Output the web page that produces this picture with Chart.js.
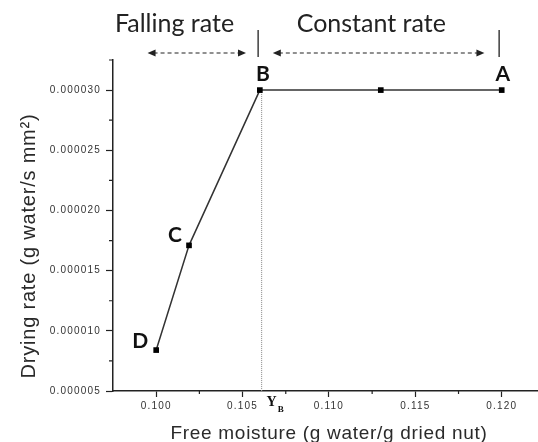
<!DOCTYPE html>
<html>
<head>
<meta charset="utf-8">
<script src="https://cdn.jsdelivr.net/npm/chart.js@4"></script>
<style>
  html, body { margin: 0; padding: 0; background: #fff; }
  canvas { display: block; }
</style>
</head>
<body>
<canvas id="chart" width="538" height="442"></canvas>
<script>
// measured points, left to right
const pointNames = ['D', 'C', 'B', '', 'A'];
const moisture = [0.1000, 0.1019, 0.1060, 0.1130, 0.1200];
const dryingRate = [0.0000084, 0.0000171, 0.0000300, 0.0000300, 0.0000300];

// critical moisture Y_B
const criticalMoisture = 0.1061;

const xTicks = [0.100, 0.105, 0.110, 0.115, 0.120];
const xTickLabels = ['0.100', '0.105', '0.110', '0.115', '0.120'];
const xMinorTicks = [0.1025, 0.1075, 0.1125, 0.1175];

const yTicks = [0.000005, 0.000010, 0.000015, 0.000020, 0.000025, 0.000030];
const yTickLabels = ['0.000005', '0.000010', '0.000015', '0.000020', '0.000025', '0.000030'];
const yMinorTicks = [0.0000075, 0.0000125, 0.0000175, 0.0000225, 0.0000275, 0.0000325];

// drying periods shown above the plot
const phaseNames = ['Falling rate', 'Constant rate'];
const phaseCenters = [0.10106, 0.11245];
const phaseArrows = [[0.0995, 0.1052], [0.10675, 0.1190]];
const phaseBounds = [0.1059, 0.11985];

const xTitle = 'Free moisture (g water/g dried nut)';
const yTitle = 'Drying rate (g water/s mm\u00B2)';

const INK = '#222';

// where each point letter sits relative to its marker
const labelPlace = {
  D: { align: 'right', dx: -8, dy: -2 },
  C: { align: 'right', dx: -7, dy: -3 },
  B: { align: 'center', dx: 3, dy: -9 },
  A: { align: 'center', dx: 1, dy: -9 },
};

function arrowHead(ctx, x, y, dir) {
  ctx.beginPath();
  ctx.moveTo(x, y);
  ctx.lineTo(x - dir * 8, y - 3.5);
  ctx.lineTo(x - dir * 8, y + 3.5);
  ctx.closePath();
  ctx.fill();
}

const tickSpacing = {
  id: 'tickSpacing',
  beforeDraw(chart) {
    chart.ctx.letterSpacing = '1.2px';
  },
};

const annotations = {
  id: 'annotations',
  afterDraw(chart) {
    const { ctx, chartArea, scales: { x, y } } = chart;
    ctx.save();
    ctx.letterSpacing = '0px';

    // minor ticks
    ctx.strokeStyle = INK;
    ctx.lineWidth = 1.2;
    ctx.beginPath();
    xMinorTicks.forEach((v) => {
      const px = x.getPixelForValue(v);
      ctx.moveTo(px, chartArea.bottom);
      ctx.lineTo(px, chartArea.bottom + 3);
    });
    yMinorTicks.forEach((v) => {
      const py = y.getPixelForValue(v);
      ctx.moveTo(chartArea.left, py);
      ctx.lineTo(chartArea.left - 4, py);
    });
    ctx.stroke();

    // point letters
    ctx.fillStyle = '#111';
    ctx.font = 'bold 21px Lato';
    ctx.textBaseline = 'alphabetic';
    pointNames.forEach((name, i) => {
      if (!name) return;
      const p = labelPlace[name];
      ctx.textAlign = p.align;
      ctx.fillText(name, x.getPixelForValue(moisture[i]) + p.dx, y.getPixelForValue(dryingRate[i]) + p.dy);
    });

    // Y_B under the axis
    const yb = x.getPixelForValue(criticalMoisture);
    ctx.textAlign = 'left';
    ctx.font = 'bold 14px "Liberation Serif"';
    ctx.fillText('Y', yb + 5, chartArea.bottom + 15);
    const yw = ctx.measureText('Y').width;
    ctx.font = 'bold 9px "Liberation Serif"';
    ctx.fillText('B', yb + 5 + yw + 1, chartArea.bottom + 21);

    // period titles, arrows and bounds
    ctx.fillStyle = INK;
    ctx.font = '25px Lato';
    ctx.textAlign = 'center';
    phaseNames.forEach((name, i) => {
      ctx.fillText(name, x.getPixelForValue(phaseCenters[i]), chartArea.top - 28);
    });

    const ay = chartArea.top - 7;
    phaseArrows.forEach(([a, b]) => {
      const x1 = x.getPixelForValue(a);
      const x2 = x.getPixelForValue(b);
      ctx.setLineDash([4, 3]);
      ctx.lineWidth = 1.2;
      ctx.beginPath();
      ctx.moveTo(x1 + 6, ay);
      ctx.lineTo(x2 - 6, ay);
      ctx.stroke();
      ctx.setLineDash([]);
      arrowHead(ctx, x1, ay, -1);
      arrowHead(ctx, x2, ay, 1);
    });

    ctx.lineWidth = 1.3;
    ctx.beginPath();
    phaseBounds.forEach((v) => {
      const px = x.getPixelForValue(v);
      ctx.moveTo(px, chartArea.top - 30);
      ctx.lineTo(px, chartArea.top - 3);
    });
    ctx.stroke();

    // axis titles
    ctx.fillStyle = '#2a2a2a';
    ctx.font = '19px "Liberation Sans"';
    ctx.letterSpacing = '0.7px';
    ctx.textBaseline = 'alphabetic';
    ctx.fillText(xTitle, 329, chartArea.bottom + 48);
    ctx.font = '20px "Liberation Sans"';
    ctx.letterSpacing = '0.8px';
    ctx.textBaseline = 'middle';
    ctx.translate(29, chartArea.bottom - 145);
    ctx.rotate(-Math.PI / 2);
    ctx.fillText(yTitle, 0, 0);

    ctx.restore();
  },
};

new Chart(document.getElementById('chart'), {
  type: 'line',
  data: {
    datasets: [
      {
        data: moisture.map((m, i) => ({ x: m, y: dryingRate[i] })),
        borderColor: '#333',
        borderWidth: 1.5,
        pointStyle: 'rect',
        pointRadius: 4,
        pointBackgroundColor: '#000',
        pointBorderColor: '#000',
        pointBorderWidth: 0,
        order: 1,
      },
      {
        data: [
          { x: criticalMoisture, y: dryingRate[2] },
          { x: criticalMoisture, y: yTicks[0] },
        ],
        borderColor: '#999',
        borderWidth: 1.2,
        borderDash: [1, 1],
        pointRadius: 0,
        order: 2,
      },
    ],
  },
  options: {
    responsive: false,
    animation: false,
    events: [],
    layout: { autoPadding: false, padding: { top: 60, right: 0, left: 0, bottom: 0 } },
    plugins: { legend: { display: false }, tooltip: { enabled: false } },
    scales: {
      x: {
        type: 'linear',
        min: 0.0975,
        max: 0.1221,
        afterBuildTicks: (s) => { s.ticks = xTicks.map((v) => ({ value: v })); },
        afterFit: (s) => { s.height = 51; s.paddingLeft = 0; s.paddingRight = 0; },
        grid: { drawOnChartArea: false, tickLength: 6, tickColor: INK, tickWidth: 1.2 },
        border: { color: INK, width: 1.5 },
        ticks: {
          callback: (v, i) => xTickLabels[i],
          color: '#333',
          font: { size: 10, family: 'Liberation Sans' },
          padding: 3,
          maxRotation: 0,
          autoSkip: false,
        },
      },
      y: {
        type: 'linear',
        min: 0.000005,
        max: 0.0000325,
        afterBuildTicks: (s) => { s.ticks = yTicks.map((v) => ({ value: v })); },
        afterFit: (s) => { s.width = 113; s.paddingTop = 0; s.paddingBottom = 0; },
        grid: { drawOnChartArea: false, tickLength: 7, tickColor: INK, tickWidth: 1.2 },
        border: { color: INK, width: 1.5 },
        ticks: {
          callback: (v, i) => yTickLabels[i],
          color: '#333',
          font: { size: 10, family: 'Liberation Sans' },
          padding: 5,
          autoSkip: false,
        },
      },
    },
  },
  plugins: [tickSpacing, annotations],
});
</script>
</body>
</html>
